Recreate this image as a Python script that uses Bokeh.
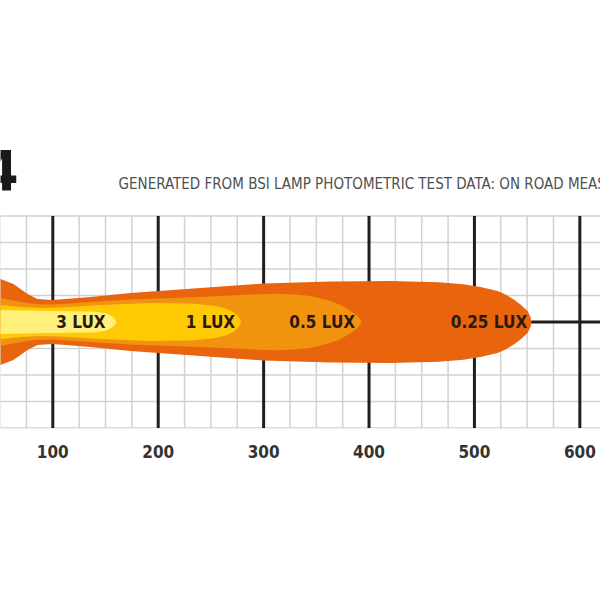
from bokeh.plotting import figure
from bokeh.models import Range1d, FixedTicker
from bokeh.core.properties import value
from bokeh.embed import file_html
from bokeh.resources import INLINE

# ---- data (distance in m, lateral half-width in m) ----
lux025_x = [35, 50.4, 62.7, 76.0, 85.5, 99.7, 135.8, 173.7, 240.0, 300.0, 363.5, 420.0, 466.0, 489.6, 505.7, 521.9, 529.5, 537.0, 543.7, 550.4, 553.2, 554.2]
lux025_w = [44, 40.6, 35.8, 26.4, 21.7, 20.8, 23.6, 27.4, 32.0, 36.3, 38.2, 38.7, 37.5, 35.6, 33.0, 29.2, 25.9, 21.4, 16.5, 10.4, 4.7, 0.0]

lux05_x = [35, 50.4, 64.6, 81.7, 99.7, 135.8, 173.7, 240.0, 300.0, 315.0, 330.0, 344.5, 363.5, 373.0, 379.6, 385.3, 390.0, 392.9]
lux05_w = [24, 22.6, 19.8, 17.0, 16.5, 18.9, 21.2, 23.6, 26.4, 26.7, 26.0, 24.5, 19.8, 16.0, 12.3, 8.5, 4.7, 0.0]

lux1_x = [35, 50.4, 69.4, 88.3, 107.3, 145.3, 192.8, 230.6, 254.3, 263.8, 270.4, 275.2, 277.6, 278.6]
lux1_w = [17, 16.0, 14.2, 13.2, 13.7, 16.0, 17.9, 17.5, 15.1, 12.7, 9.9, 6.1, 2.8, 0.0]

lux3_x = [35, 50.4, 97.8, 135.8, 140.6, 147.2, 151.9, 155.7, 158.5, 160.4]
lux3_w = [11.5, 11.3, 10.4, 9.9, 9.7, 8.8, 7.5, 5.7, 3.3, 0.0]

zone_labels = ["3 LUX", "1 LUX", "0.5 LUX", "0.25 LUX"]
zone_label_x = [126.7, 249.6, 355.6, 513.8]

tick_values = [100, 200, 300, 400, 500, 600]
tick_labels = ["100", "200", "300", "400", "500", "600"]
minor_x = [50, 75, 125, 150, 175, 225, 250, 275, 325, 350, 375, 425, 450, 475, 525, 550, 575, 625]
minor_y = [-100, -75, -50, -25, 25, 50, 75, 100]
grid_y_min, grid_y_max = -100, 100
grid_x_min, grid_x_max = 0, 700

title_text = "GENERATED FROM BSI LAMP PHOTOMETRIC TEST DATA: ON ROAD MEASUREMENTS"
corner_text = "4"

colors = ["#E8650E", "#F29310", "#FFC904", "#FFF07C"]

FONT = "DejaVu Sans Condensed"

p = figure(width=600, height=473, output_backend="svg", toolbar_location=None,
           x_range=Range1d(50.38, 619.6), y_range=Range1d(-100.5, 303.27),
           min_border_left=0, min_border_right=0, min_border_top=0, min_border_bottom=45)
p.outline_line_color = None
p.background_fill_color = "white"
p.border_fill_color = "white"
p.yaxis.visible = False
p.xgrid.visible = False
p.ygrid.visible = False

# grid lines, limited to the lateral band -100..100
p.segment(x0=minor_x, x1=minor_x, y0=[grid_y_min] * len(minor_x), y1=[grid_y_max] * len(minor_x),
          line_color="#D2D2D2", line_width=1.5)
p.segment(x0=[grid_x_min] * len(minor_y), x1=[grid_x_max] * len(minor_y), y0=minor_y, y1=minor_y,
          line_color="#D2D2D2", line_width=1.5)
p.segment(x0=tick_values, x1=tick_values, y0=[grid_y_min] * len(tick_values), y1=[grid_y_max] * len(tick_values),
          line_color="#1E1E1E", line_width=3)
p.segment(x0=[grid_x_min], x1=[grid_x_max], y0=[0], y1=[0], line_color="#1E1E1E", line_width=3)

# axis
p.xaxis.ticker = FixedTicker(ticks=tick_values)
p.xaxis.major_label_overrides = {v: l for v, l in zip(tick_values, tick_labels)}
p.xaxis.axis_line_color = None
p.xaxis.major_tick_line_color = None
p.xaxis.minor_tick_line_color = None
p.xaxis.major_label_standoff = 10
p.xaxis.major_label_text_font = FONT
p.xaxis.major_label_text_font_style = "bold"
p.xaxis.major_label_text_font_size = "17px"
p.xaxis.major_label_text_color = "#333333"

# beam contours
for xs, ws, c in [(lux025_x, lux025_w, colors[0]), (lux05_x, lux05_w, colors[1]),
                  (lux1_x, lux1_w, colors[2]), (lux3_x, lux3_w, colors[3])]:
    px = list(xs) + list(reversed(xs))
    py = list(ws) + [-w for w in reversed(ws)]
    p.patch(px, py, fill_color=c, line_color=None)

p.text(x=zone_label_x, y=[0] * len(zone_labels), text=zone_labels,
       text_font=value(FONT), text_font_style="bold", text_font_size="17px",
       text_color="#2A1A0E", text_align="center", text_baseline="middle")

p.text(x=[162.4], y=[130.2], text=[title_text], text_font=value(FONT),
       text_font_size="15px", text_color="#4F4F4F", text_baseline="middle")
p.text(x=[67.5], y=[143.4], text=[corner_text], text_font=value(FONT),
       text_font_style="bold", text_font_size="56px", text_color="#1A1A1A",
       text_align="right", text_baseline="middle")

open("out.html", "w").write(file_html(p, INLINE))
